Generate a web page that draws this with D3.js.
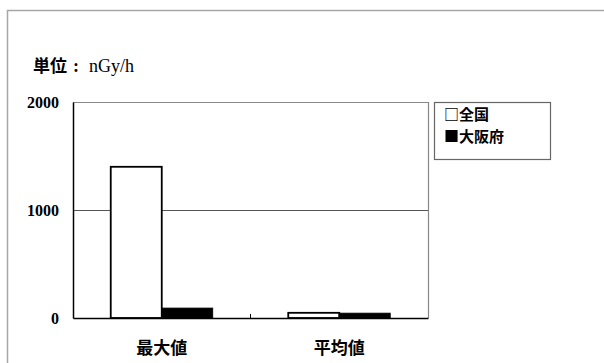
<!DOCTYPE html>
<html>
<head>
<meta charset="utf-8">
<script src="https://cdn.jsdelivr.net/npm/d3@7"></script>
<style>
  html, body { margin: 0; padding: 0; background: #fff; }
  svg { display: block; }
</style>
</head>
<body>
<svg id="chart" width="604" height="363"></svg>
<script>
// Air dose rate: maximum and mean, nationwide vs. Osaka
const categories = ["最大値", "平均値"];
const seriesNames = ["全国", "大阪府"];
const nationwide = [1400, 48];
const osaka = [92, 45];
const yTicks = [0, 1000, 2000];
const unitLabel = "単位";
const unitText = "nGy/h";

const svg = d3.select("#chart");
const W = 604, H = 363;
const plot = { left: 73, top: 102, right: 428, bottom: 318 };

// outer frame
svg.append("path")
  .attr("d", `M${W},10.5 H7.5 V${H}`)
  .attr("fill", "none").attr("stroke", "#a6a6a6").attr("stroke-width", 1.5);

const x0 = d3.scaleBand().domain(categories).range([plot.left, plot.right]);
const x1 = d3.scaleBand().domain(seriesNames)
  .range([0, x0.bandwidth()]).paddingOuter(0.74).paddingInner(0);
const y = d3.scaleLinear().domain([0, 2000]).range([plot.bottom, plot.top]);

// gridlines
svg.append("g").selectAll("line")
  .data(yTicks.filter(t => t > 0 && t < 2000))
  .join("line")
  .attr("x1", plot.left).attr("x2", plot.right)
  .attr("y1", d => Math.round(y(d)) + 0.5).attr("y2", d => Math.round(y(d)) + 0.5)
  .attr("stroke", "#555").attr("stroke-width", 1);

// top and right plot edges
svg.append("path")
  .attr("d", `M${plot.left},${plot.top + 0.5} H${plot.right + 0.5} V${plot.bottom}`)
  .attr("fill", "none").attr("stroke", "#888").attr("stroke-width", 1.2);

const rows = categories.map((c, i) => ({ cat: c, vals: [nationwide[i], osaka[i]] }));

const g = svg.append("g");
rows.forEach(r => {
  r.vals.forEach((v, j) => {
    const bx = x0(r.cat) + x1(seriesNames[j]);
    g.append("rect")
      .attr("x", bx)
      .attr("y", y(v))
      .attr("width", x1.bandwidth())
      .attr("height", y(0) - y(v))
      .attr("fill", j === 0 ? "#fff" : "#000")
      .attr("stroke", "#000")
      .attr("stroke-width", j === 0 ? 1.8 : 0.8);
  });
});

// axes
const yAxis = d3.axisLeft(y).tickValues(yTicks).tickSize(0).tickPadding(14).tickFormat(d3.format("d"));
const ya = svg.append("g").attr("transform", `translate(${plot.left},0)`).call(yAxis);
ya.select(".domain").attr("stroke", "#000").attr("stroke-width", 1.5);
ya.selectAll("text")
  .attr("font-family", "'Liberation Serif', serif")
  .attr("font-weight", "bold").attr("font-size", 16).attr("fill", "#000")
  .attr("dy", "0.32em");

const xa = svg.append("g").attr("transform", `translate(0,${plot.bottom})`)
  .call(d3.axisBottom(x0).tickSize(0).tickPadding(22));
xa.select(".domain").attr("stroke", "#000").attr("stroke-width", 1.5);
xa.selectAll("text")
  .attr("font-family", "'Noto Sans CJK JP', sans-serif")
  .attr("font-weight", "bold").attr("font-size", 17).attr("fill", "#000")
  .attr("dy", "0.85em");

// category separator tick
svg.append("line")
  .attr("x1", x0(categories[1])).attr("x2", x0(categories[1]))
  .attr("y1", plot.bottom).attr("y2", plot.bottom - 4)
  .attr("stroke", "#000");

// unit label
const u = svg.append("text").attr("x", 33).attr("y", 72).attr("fill", "#000");
u.append("tspan")
  .attr("font-family", "'Noto Sans CJK JP', sans-serif")
  .attr("font-weight", "bold").attr("font-size", 17).text(unitLabel);
u.append("tspan")
  .attr("x", 73)
  .attr("font-family", "'Liberation Serif', serif")
  .attr("font-weight", "bold").attr("font-size", 18).text(":");
u.append("tspan")
  .attr("x", 89)
  .attr("font-family", "'Liberation Serif', serif")
  .attr("font-size", 18).text(unitText);

// legend
const lg = svg.append("g");
lg.append("rect").attr("x", 434.5).attr("y", 102.5).attr("width", 116).attr("height", 57)
  .attr("fill", "#fff").attr("stroke", "#666").attr("stroke-width", 1.2);
const markers = ["□", "■"];
seriesNames.forEach((s, i) => {
  lg.append("text")
    .attr("x", 444).attr("y", 120 + i * 22)
    .attr("font-family", "'Noto Sans CJK JP', sans-serif")
    .attr("font-weight", "bold").attr("font-size", 15).attr("fill", "#000")
    .text(markers[i] + s);
});
</script>
</body>
</html>
